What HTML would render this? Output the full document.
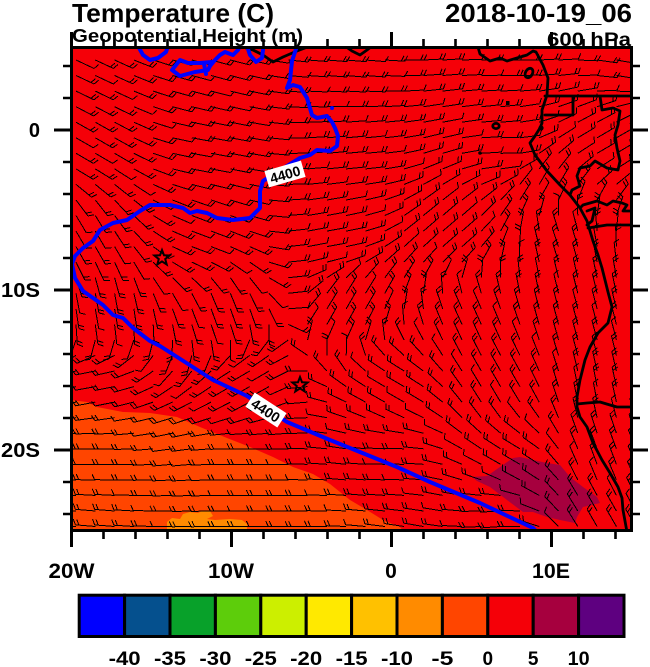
<!DOCTYPE html>
<html><head><meta charset="utf-8">
<style>
html,body{margin:0;padding:0;background:#fff;}
svg{display:block;}
text{font-family:"Liberation Sans",Arial,sans-serif;font-weight:bold;fill:#000;}
</style></head><body>
<svg id="s" width="650" height="667" viewBox="0 0 650 667" xmlns="http://www.w3.org/2000/svg">
<defs><clipPath id="pc"><rect x="71.5" y="47.5" width="560" height="483"/></clipPath></defs>
<g clip-path="url(#pc)">
<rect x="70" y="46" width="563" height="486" fill="#F50008"/>
<polygon fill="#FF4500" points="70,400 87,402 97,407 123,412 150,413 177,417 200,427 227,438 250,447 273,457 293,467 313,474 330,484 350,500 367,510 383,520 400,527 404,532 70,532"/>
<polygon fill="#FF8B00" points="167,532 167,522 172,518 180,519 183,514 190,512 198,513 202,511 210,511 213,516 207,519 215,520 230,519 242,520 247,524 247,532"/>
<polygon fill="#A6003E" points="472,477 487,476 500,467 513,458 520,457 533,460 547,463 560,465 570,477 583,487 597,497 600,503 583,507 577,517 575,523 560,520 547,517 533,512 523,512 507,500 490,487 477,481"/>
<path id="barbs" d="" stroke="#000" stroke-width="1" fill="none" shape-rendering="crispEdges"/>
<g fill="none" stroke="#000" stroke-width="2.8" stroke-linejoin="round" stroke-linecap="round">
<path d="M478,47 L480,54 L490,61 L500,58 L507,61 L517,58 L527,55 L533,51 L536,52 L543,65 L548,78 L547,95 L542,110 L542,123 L540,128 L535,136 L530,143 L535,155 L547,171 L560,185 L570,195 L580,208 L587,221 L593,241 L598,255 L602,268 L605,280 L608,292 L612,307 L608,323 L598,333 L590,347 L585,360 L580,380 L577,397 L577,407 L580,417 L587,427 L593,443 L602,460 L610,473 L618,487 L622,498 L623,510 L627,532"/>
<path d="M545,96 L633,96 M573,96 L573,115 L545,115 M600,96 L602,110 L613,108 L620,111 L618,125 L615,135 L617,148 L620,161 L618,170 L607,168 L595,161 L590,166 L580,168 L577,176 L580,186 L572,190 L570,195 M580,208 L583,205 L597,201 L607,205 L613,201 L622,203 L627,205 L623,211 L633,211 M587,211 L595,208 L592,221 L587,225 M588,228 L607,225 L633,225 M577,404 L587,403 L600,402 L610,405 L617,407 L633,407"/>
<path d="M240,46 L253,50 L263,55 L273,62 L283,57 L297,51 L310,46 M345,46 L352,51 L360,55 L367,50 L372,46"/>
<ellipse cx="529" cy="73" rx="3.5" ry="5" transform="rotate(30 529 73)"/>
<ellipse cx="496" cy="126" rx="3.2" ry="2.6"/>
</g>
<rect x="506" y="101" width="3.5" height="4" fill="#000"/>
<circle cx="480" cy="153" r="1.8" fill="#000"/>
<circle cx="541" cy="128" r="2.6" fill="#000"/>
<g fill="none" stroke="#0000FF" stroke-width="4" stroke-linejoin="round" stroke-linecap="round">
<path d="M297,46 L292,61 L290,80 L287,88 L293,85 L300,87 L307,98 L312,115 L317,118 L322,117 L327,116 L332,122 L335,128 L338,136 L337,146 L330,151 L317,150 L310,155 L300,158 L263,181 L260,191 L260,208 L250,218 L233,220 L217,218 L207,213 L197,211 L190,213 L183,208 L170,205 L150,205 L140,211 L127,220 L113,223 L100,230 L93,241 L83,248 L75,256 L72,264 L75,278 L83,291 L93,298 L103,305 L113,315 L123,318 L133,328 L150,341 L160,346 L213,380 L247,396 L287,422 L330,440 L350,448 L397,467 L430,482 L480,503 L533,528 L538,533"/>
<path d="M138,46 L143,55 L150,60 L158,58 L166,52 L168,46"/>
<path d="M180,60 L172,70 L180,76 L195,72 L208,70 L212,62 L200,63 L188,63 Z"/>
<path d="M204,64 L206,74 M210,66 L215,60 L220,55 L225,52 L233,55 L238,50 L240,46"/>
<path d="M247,46 L250,55 L256,62 L262,58 L263,50"/>
</g>
<circle cx="332" cy="108" r="2" fill="#0000FF"/>
<g transform="translate(285,174) rotate(-16)"><rect x="-19" y="-8.5" width="38" height="17" fill="#fff"/><text x="0" y="5.5" font-size="14" text-anchor="middle" textLength="31" lengthAdjust="spacingAndGlyphs">4400</text></g>
<g transform="translate(266,410) rotate(33)"><rect x="-19" y="-8.5" width="38" height="17" fill="#fff"/><text x="0" y="5.5" font-size="14" text-anchor="middle" textLength="31" lengthAdjust="spacingAndGlyphs">4400</text></g>
<g fill="none" stroke="#000" stroke-width="2" stroke-linejoin="miter">
<polygon transform="translate(162,258)" points="0,-8 2,-2.75 7.61,-2.47 3.23,1.05 4.7,6.47 0,3.4 -4.7,6.47 -3.23,1.05 -7.61,-2.47 -2,-2.75"/>
<polygon transform="translate(300,385)" points="0,-8 2,-2.75 7.61,-2.47 3.23,1.05 4.7,6.47 0,3.4 -4.7,6.47 -3.23,1.05 -7.61,-2.47 -2,-2.75"/>
</g>
</g>
<!-- frame -->
<rect x="71.5" y="47.5" width="560" height="483" fill="none" stroke="#000" stroke-width="3"/>
<!-- ticks -->
<path stroke="#000" stroke-width="3" fill="none" d="
M71.5,530 V547 M231.5,530 V547 M391.5,530 V547 M551.5,530 V547
M71.5,47 V32 M231.5,47 V32 M391.5,47 V32 M551.5,47 V32
M72,130 H54 M72,290 H54 M72,450 H54
M631,130 H648 M631,290 H648 M631,450 H648"/>
<path stroke="#000" stroke-width="2.6" fill="none" d="
M103.5,530V539 M135.5,530V539 M167.5,530V539 M199.5,530V539 M263.5,530V539 M295.5,530V539 M327.5,530V539 M359.5,530V539 M423.5,530V539 M455.5,530V539 M487.5,530V539 M519.5,530V539 M583.5,530V539 M615.5,530V539
M103.5,47V39 M135.5,47V39 M167.5,47V39 M199.5,47V39 M263.5,47V39 M295.5,47V39 M327.5,47V39 M359.5,47V39 M423.5,47V39 M455.5,47V39 M487.5,47V39 M519.5,47V39 M583.5,47V39 M615.5,47V39
M72,66H63 M72,98H63 M72,162H63 M72,194H63 M72,226H63 M72,258H63 M72,322H63 M72,354H63 M72,386H63 M72,418H63 M72,482H63 M72,514H63
M631,66H640 M631,98H640 M631,162H640 M631,194H640 M631,226H640 M631,258H640 M631,322H640 M631,354H640 M631,386H640 M631,418H640 M631,482H640 M631,514H640"/>
<!-- titles -->
<text x="72" y="22" font-size="26" textLength="202" lengthAdjust="spacingAndGlyphs">Temperature (C)</text>
<text x="72" y="42" font-size="18" textLength="231" lengthAdjust="spacingAndGlyphs">Geopotential Height (m)</text>
<text x="632" y="22" font-size="26" text-anchor="end" textLength="187" lengthAdjust="spacingAndGlyphs">2018-10-19_06</text>
<text x="631" y="46" font-size="19" text-anchor="end" textLength="84" lengthAdjust="spacingAndGlyphs">600 hPa</text>
<!-- axis labels -->
<text x="40" y="137" font-size="20" text-anchor="end">0</text>
<text x="40" y="297" font-size="20" text-anchor="end" textLength="39" lengthAdjust="spacingAndGlyphs">10S</text>
<text x="40" y="457" font-size="20" text-anchor="end" textLength="39" lengthAdjust="spacingAndGlyphs">20S</text>
<text x="71.5" y="578" font-size="21" text-anchor="middle" textLength="46" lengthAdjust="spacingAndGlyphs">20W</text>
<text x="231" y="578" font-size="21" text-anchor="middle" textLength="46" lengthAdjust="spacingAndGlyphs">10W</text>
<text x="391" y="578" font-size="21" text-anchor="middle">0</text>
<text x="551" y="578" font-size="21" text-anchor="middle" textLength="38" lengthAdjust="spacingAndGlyphs">10E</text>
<!-- colorbar -->
<g stroke="#000" stroke-width="3">
<rect x="79.2" y="595.2" width="45.4" height="41.3" fill="#0000FF"/>
<rect x="124.6" y="595.2" width="45.4" height="41.3" fill="#05508E"/>
<rect x="170.0" y="595.2" width="45.4" height="41.3" fill="#08A12A"/>
<rect x="215.4" y="595.2" width="45.4" height="41.3" fill="#5DCD0B"/>
<rect x="260.8" y="595.2" width="45.4" height="41.3" fill="#CCEF00"/>
<rect x="306.2" y="595.2" width="45.4" height="41.3" fill="#FFE900"/>
<rect x="351.6" y="595.2" width="45.4" height="41.3" fill="#FFC100"/>
<rect x="397.0" y="595.2" width="45.4" height="41.3" fill="#FF8B00"/>
<rect x="442.4" y="595.2" width="45.4" height="41.3" fill="#FF4500"/>
<rect x="487.8" y="595.2" width="45.4" height="41.3" fill="#F50008"/>
<rect x="533.2" y="595.2" width="45.4" height="41.3" fill="#A6003E"/>
<rect x="578.6" y="595.2" width="45.4" height="41.3" fill="#5E0080"/>
</g>
<g font-size="19" text-anchor="middle">
<text x="124.6" y="665" textLength="32" lengthAdjust="spacingAndGlyphs">-40</text>
<text x="170.0" y="665" textLength="32" lengthAdjust="spacingAndGlyphs">-35</text>
<text x="215.4" y="665" textLength="32" lengthAdjust="spacingAndGlyphs">-30</text>
<text x="260.8" y="665" textLength="32" lengthAdjust="spacingAndGlyphs">-25</text>
<text x="306.2" y="665" textLength="32" lengthAdjust="spacingAndGlyphs">-20</text>
<text x="351.6" y="665" textLength="32" lengthAdjust="spacingAndGlyphs">-15</text>
<text x="397.0" y="665" textLength="32" lengthAdjust="spacingAndGlyphs">-10</text>
<text x="442.4" y="665" textLength="22" lengthAdjust="spacingAndGlyphs">-5</text>
<text x="487.8" y="665">0</text>
<text x="533.2" y="665">5</text>
<text x="578.6" y="665" textLength="22" lengthAdjust="spacingAndGlyphs">10</text>
</g>
</svg>
<script>
(function(){
try{
var A=[[80,60,25],[200,60,15],[350,60,5],[500,60,0],[620,60,10],
[80,150,30],[200,150,10],[350,150,-5],[500,150,0],[600,150,-30],[540,190,-60],
[80,230,60],[200,240,20],[330,240,-10],[450,240,-40],[560,240,-110],
[100,310,80],[220,310,70],[350,310,-60],[470,320,-115],[580,320,-105],
[100,380,170],[250,380,150],[400,390,-150],[500,390,-120],[590,400,-100],
[100,460,180],[250,460,180],[400,460,180],[520,460,-150],[600,460,-110],
[100,520,185],[300,520,180],[500,520,175],[600,520,-120]];
function ang(x,y){
  var sx=0,sy=0;
  for(var i=0;i<A.length;i++){
    var dx=x-A[i][0],dy=y-A[i][1];
    var d2=dx*dx+dy*dy+200;
    var w=1/Math.pow(d2,1.5);
    var a=A[i][2]*Math.PI/180;
    sx+=w*Math.cos(a);sy+=w*Math.sin(a);
  }
  return Math.atan2(sy,sx);
}
var d=[],L=20,F=6;
for(var k=0;k<=30;k++){
  var y=60+15.55*k;
  for(var j=0;j<30;j++){
    var x=76+19.3*j;
    var t=ang(x,y);
    var c=Math.cos(t),s=Math.sin(t);
    var tx=x+L*c,ty=y+L*s;
    d.push('M'+x.toFixed(1)+' '+y.toFixed(1)+'L'+tx.toFixed(1)+' '+ty.toFixed(1));
    var sg=(c>=0)?-1:1;
    var fa=t+sg*65*Math.PI/180;
    var fx=F*Math.cos(fa),fy=F*Math.sin(fa);
    var n=((j*7+k*13)%5===0)?1:2;
    for(var f=0;f<n;f++){
      var px=tx-f*3.5*c,py=ty-f*3.5*s;
      d.push('M'+px.toFixed(1)+' '+py.toFixed(1)+'l'+fx.toFixed(1)+' '+fy.toFixed(1));
    }
  }
}
document.getElementById('barbs').setAttribute('d',d.join(''));
}catch(e){}
})();
</script>
</body></html>
